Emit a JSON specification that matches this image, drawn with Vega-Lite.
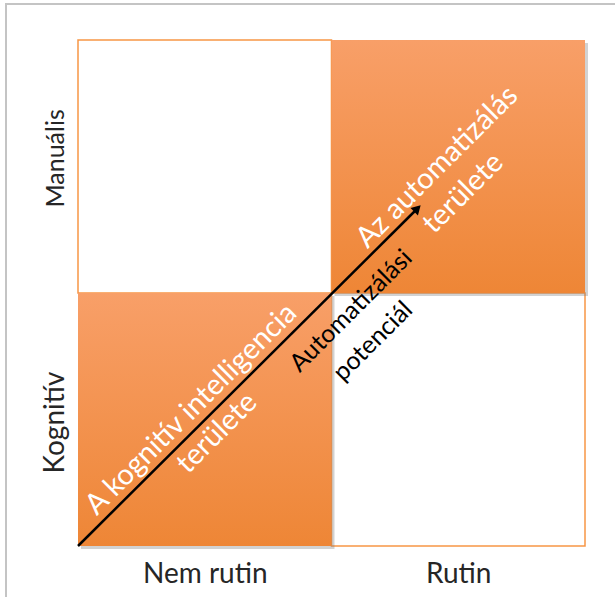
{
  "$schema": "https://vega.github.io/schema/vega-lite/v6.json",
  "width": 507,
  "height": 506,
  "autosize": "none",
  "padding": {"left": 78, "top": 40, "right": 30, "bottom": 51},
  "background": "white",
  "config": {"view": {"stroke": null}},
  "datasets": {
    "frame": [{"x": -0.284, "x2": 3, "y": 2.142, "y2": -1}],
    "white": [{"x": 0, "x2": 1, "y": 1, "y2": 2}, {"x": 1, "x2": 2, "y": 0, "y2": 1}],
    "orange": [{"x": 1, "x2": 2, "y": 1, "y2": 2}, {"x": 0, "x2": 1, "y": 0, "y2": 1}],
    "arrow": [{"x": 0, "y": 0, "x2": 1.339, "y2": 1.334}],
    "head": [{"x": 1.339, "y": 1.334}],
    "whiteText": [
      {"x": 0.446, "y": 0.541, "label": "A kognitív intelligencia"},
      {"x": 0.548, "y": 0.447, "label": "területe"},
      {"x": 1.416, "y": 1.498, "label": "Az automatizálás"},
      {"x": 1.519, "y": 1.395, "label": "területe"}
    ],
    "blackText": [
      {"x": 1.077, "y": 0.93, "label": "Automatizálási"},
      {"x": 1.163, "y": 0.81, "label": "potenciál"}
    ]
  },
  "encoding": {
    "x": {
      "field": "x",
      "type": "quantitative",
      "scale": {"domain": [0, 2], "nice": false, "zero": false},
      "axis": {
        "values": [0.5, 1.5],
        "labelExpr": "datum.value < 1 ? 'Nem rutin' : 'Rutin'",
        "domain": false,
        "ticks": false,
        "grid": false,
        "title": null,
        "labelFont": "Lato",
        "labelFontSize": 28,
        "labelColor": "#262626",
        "labelPadding": 14
      }
    },
    "y": {
      "field": "y",
      "type": "quantitative",
      "scale": {"domain": [0, 2], "nice": false, "zero": false},
      "axis": {
        "values": [0.49, 1.534],
        "labelExpr": "datum.value < 1 ? 'Kognitív' : 'Manuális'",
        "labelAngle": -90,
        "labelAlign": "center",
        "labelBaseline": "alphabetic",
        "domain": false,
        "ticks": false,
        "grid": false,
        "title": null,
        "labelFont": "Lato",
        "labelFontSize": {"condition": {"test": "datum.value < 1", "value": 28}, "value": 25},
        "labelColor": "#262626",
        "labelPadding": 15
      }
    }
  },
  "layer": [
    {
      "data": {"name": "frame"},
      "mark": {"type": "rect", "fill": null, "stroke": "#c4c4c4", "strokeWidth": 2},
      "encoding": {"x2": {"field": "x2"}, "y2": {"field": "y2"}}
    },
    {
      "data": {"name": "white"},
      "mark": {"type": "rect", "fill": "white", "stroke": "#F79646", "strokeWidth": 1.5},
      "encoding": {"x2": {"field": "x2"}, "y2": {"field": "y2"}}
    },
    {
      "data": {"name": "orange"},
      "mark": {"type": "rect", "fill": "#7f7f7f", "opacity": 0.35, "xOffset": 3, "x2Offset": 3, "yOffset": 3, "y2Offset": 3},
      "encoding": {"x2": {"field": "x2"}, "y2": {"field": "y2"}}
    },
    {
      "data": {"name": "orange"},
      "mark": {
        "type": "rect",
        "fill": {
          "gradient": "linear",
          "x1": 0, "y1": 0, "x2": 0, "y2": 1,
          "stops": [
            {"offset": 0, "color": "#F89F68"},
            {"offset": 1, "color": "#EE8636"}
          ]
        }
      },
      "encoding": {"x2": {"field": "x2"}, "y2": {"field": "y2"}}
    },
    {
      "data": {"name": "arrow"},
      "mark": {"type": "rule", "color": "black", "strokeWidth": 2.5},
      "encoding": {"x2": {"field": "x2"}, "y2": {"field": "y2"}}
    },
    {
      "data": {"name": "head"},
      "mark": {"type": "point", "shape": "triangle-up", "angle": 45, "size": 110, "filled": true, "color": "black", "opacity": 1},
      "encoding": {}
    },
    {
      "data": {"name": "whiteText"},
      "mark": {"type": "text", "angle": -45, "font": "Lato", "fontSize": 29, "color": "white", "align": "center", "baseline": "middle"},
      "encoding": {"text": {"field": "label"}}
    },
    {
      "data": {"name": "blackText"},
      "mark": {"type": "text", "angle": -45, "font": "Lato", "fontSize": 25, "color": "black", "align": "center", "baseline": "middle"},
      "encoding": {"text": {"field": "label"}}
    }
  ]
}
